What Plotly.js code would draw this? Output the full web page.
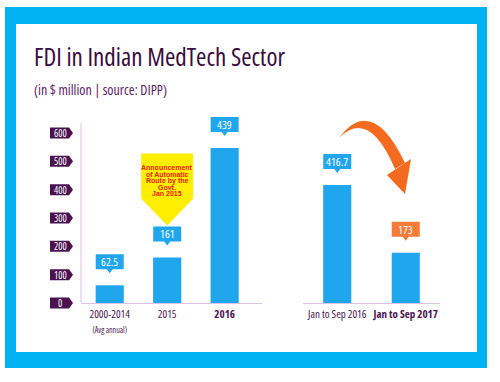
<!DOCTYPE html>
<html><head><meta charset="utf-8">
<script src="https://cdn.plot.ly/plotly-3.0.1.min.js"></script>
<style>html,body{margin:0;padding:0;background:#fff}#chart{width:500px;height:382px}
text[style*="Open Sans"]{font-stretch:75% !important}</style>
</head><body><div id="chart"></div>
<script>
// ---- data ----
const categoriesA = ['2000-2014', '2015', '2016'];
const tickTextA = ['2000-2014<br><span style="font-size:8px">(Avg annual)</span>', '2015', '<b>2016</b>'];
const barHeightsA = [62.5, 161, 547];      // drawn bar heights
const valueLabelsA = ['62.5', '161', '439']; // printed labels
const categoriesB = ['Jan to Sep 2016', 'Jan to Sep 2017'];
const tickTextB = ['Jan to Sep 2016', '<b>Jan to Sep 2017</b>'];
const barHeightsB = [416.7, 177];
const valueLabelsB = ['416.7', '173'];
const yTicks = [0, 100, 200, 300, 400, 500, 600];
const calloutLines = ['Announcement', 'of Automatic', 'Route by the', 'Govt.', 'Jan 2015'];

// ---- styling ----
const W = 500, H = 382;
const px = x => x / W, py = y => 1 - y / H;
const FONT = '"Open Sans",sans-serif';
const BLUE = '#1fa6ec', FRAME = '#00b2f2', PURPLE = '#4a1450', ORANGE = '#f46a1f';
const AXIS = '#dcc2e6';
const Y_AXIS_TOP = 635;

const traces = [
  {type: 'bar', x: categoriesA, y: barHeightsA, xaxis: 'x', yaxis: 'y', width: 0.49,
   marker: {color: BLUE}, hoverinfo: 'skip'},
  {type: 'bar', x: categoriesB, y: barHeightsB, xaxis: 'x2', yaxis: 'y', width: 0.41,
   marker: {color: BLUE}, hoverinfo: 'skip'}
];

const shapes = [
  {type: 'rect', xref: 'paper', yref: 'paper', x0: px(5), x1: px(487), y0: py(368), y1: py(7),
   fillcolor: FRAME, line: {width: 0}, layer: 'below'},
  {type: 'rect', xref: 'paper', yref: 'paper', x0: px(16), x1: px(477), y0: py(352), y1: py(24),
   fillcolor: '#ffffff', line: {width: 0}, layer: 'below'},
  // vertical axis line
  {type: 'line', xref: 'paper', yref: 'y', x0: px(81), x1: px(81), y0: 0, y1: Y_AXIS_TOP,
   line: {color: AXIS, width: 1}}
];
const annotations = [
  {xref: 'paper', yref: 'paper', x: px(32), y: py(56), xanchor: 'left', yanchor: 'middle',
   text: 'FDI in Indian MedTech Sector', showarrow: false,
   font: {family: FONT, size: 25, color: '#3a0c3e'}},
  {xref: 'paper', yref: 'paper', x: px(32), y: py(89), xanchor: 'left', yanchor: 'middle',
   text: '(in $ million | source: DIPP)', showarrow: false,
   font: {family: FONT, size: 14, color: '#5e2065'}}
];

// y tick labels as arrow tags
yTicks.forEach(t => {
  shapes.push({type: 'path', xref: 'paper', xsizemode: 'pixel', xanchor: 0,
    yref: 'y', ysizemode: 'pixel', yanchor: t,
    path: 'M 50 5.5 L 69 5.5 L 73 0 L 69 -5.5 L 50 -5.5 Z', fillcolor: '#4a1250', line: {width: 0}});
  annotations.push({xref: 'paper', yref: 'y', x: px(60), y: t, xanchor: 'center', yanchor: 'middle',
    text: String(t), showarrow: false,
    font: {family: FONT, size: 10, color: '#ffffff'}});
});

// value callouts
function callout(xref, idx, h, label, color) {
  shapes.push({type: 'path', xref: xref, xsizemode: 'pixel', xanchor: idx,
    yref: 'y', ysizemode: 'pixel', yanchor: h,
    path: 'M -14 16 L -3 16 L 0 12 L 3 16 L 14 16 L 14 31 L -14 31 Z',
    fillcolor: color, line: {width: 0}});
  annotations.push({xref: xref, yref: 'y', x: idx, y: h, yshift: 23.5, xanchor: 'center', yanchor: 'middle',
    text: label, showarrow: false,
    font: {family: FONT, size: 11.5, color: '#ffffff'}});
}
categoriesA.forEach((c, i) => callout('x', i, barHeightsA[i], valueLabelsA[i], BLUE));
categoriesB.forEach((c, i) => callout('x2', i, barHeightsB[i], valueLabelsB[i], i === 1 ? '#f47b3a' : BLUE));

// yellow announcement callout above 2015
shapes.push({type: 'path', xref: 'x', xsizemode: 'pixel', xanchor: 1,
  yref: 'y', ysizemode: 'pixel', yanchor: barHeightsA[1],
  path: 'M -26 104 L 26 104 L 26 59 L 0 32 L -26 59 Z', fillcolor: '#ffee00', line: {width: 0}});
calloutLines.forEach((ln, i) => {
  annotations.push({xref: 'x', yref: 'y', x: 1, y: barHeightsA[1], yshift: 89.5 - i * 6.5,
    xanchor: 'center', yanchor: 'middle',
    text: '<b>' + ln + '</b>', showarrow: false,
    font: {family: '"Liberation Sans",Arial,sans-serif', size: 7, color: '#e4211b'}});
});

// orange curved arrow (pixel coords from top-left)
const P = (x, y) => x + ' ' + (-y);
shapes.push({type: 'path', xref: 'paper', xsizemode: 'pixel', xanchor: 0,
  yref: 'paper', ysizemode: 'pixel', yanchor: 1,
  path: 'M ' + P(339, 138) + ' Q ' + P(372, 94) + ' ' + P(405, 163) + ' L ' + P(395, 169) +
        ' Q ' + P(369, 108) + ' ' + P(339, 138) + ' Z',
  fillcolor: ORANGE, line: {width: 0}});
shapes.push({type: 'path', xref: 'paper', xsizemode: 'pixel', xanchor: 0,
  yref: 'paper', ysizemode: 'pixel', yanchor: 1,
  path: 'M ' + P(387, 175) + ' L ' + P(411, 159) + ' L ' + P(405, 194) + ' Z',
  fillcolor: ORANGE, line: {width: 0}});

const axisCommon = {type: 'category', showline: true, linecolor: AXIS, linewidth: 1, ticks: '',
  showgrid: false, zeroline: false, fixedrange: true, tickangle: 0, ticklabelstandoff: 1,
  anchor: 'free', position: py(303),
  tickfont: {family: FONT, size: 11, color: PURPLE}};

// y scale: value 0 at pixel 303, 600 at pixel 133
const pxPerUnit = (303 - 133) / 600;
const yTopPx = 100, yBotPx = 325;

const layout = {
  width: W, height: H, margin: {l: 0, r: 0, t: 0, b: 0},
  paper_bgcolor: '#ffffff', plot_bgcolor: 'rgba(0,0,0,0)', showlegend: false,
  xaxis: Object.assign({}, axisCommon, {domain: [px(81), px(262)], range: [-0.5, 2.65],
    tickvals: categoriesA, ticktext: tickTextA}),
  xaxis2: Object.assign({}, axisCommon, {domain: [px(303), px(440)], range: [-0.5, 1.5],
    tickvals: categoriesB, ticktext: tickTextB}),
  yaxis: {domain: [py(yBotPx), py(yTopPx)],
    range: [-(yBotPx - 303) / pxPerUnit, (303 - yTopPx) / pxPerUnit],
    showline: false, showticklabels: false, ticks: '', showgrid: false, zeroline: false, fixedrange: true},
  shapes: shapes, annotations: annotations
};

Plotly.newPlot('chart', traces, layout, {displayModeBar: false, staticPlot: true});
</script></body></html>
